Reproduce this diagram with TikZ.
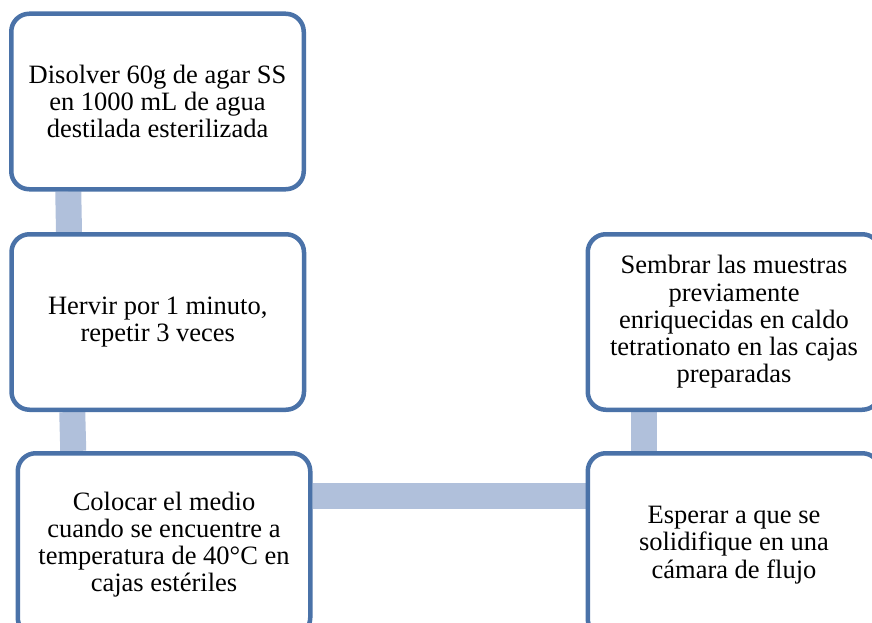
\documentclass[tikz,border=0pt]{standalone}
\usepackage{fontspec}
\setmainfont{Liberation Serif}
\usetikzlibrary{calc,backgrounds}
\definecolor{boxline}{RGB}{74,114,168}
\definecolor{linkfill}{RGB}{176,192,219}
\begin{document}
\begin{tikzpicture}[x=1pt,y=-1pt,
  stepbox/.style={draw=boxline,line width=4.5pt,fill=white,rounded corners=18pt,
    minimum width=292.5pt,minimum height=175.5pt,align=center,inner sep=0pt,
    font=\fontsize{26.5}{27.2}\selectfont},
  link/.style={draw=linkfill,line width=26pt}]
\useasboundingbox (0,0) rectangle (872,623);
\clip (0,0) rectangle (872,623);
\node[stepbox] (b1) at (157.5,101.5) {Disolver 60g de agar SS\\en 1000 mL de agua\\destilada esterilizada};
\node[stepbox] (b2) at (157.75,322) {Hervir por 1 minuto,\\repetir 3 veces};
% the lower boxes run past the bottom edge
\node[stepbox,minimum height=182.5pt] (b3) at (164,544.5) {Colocar el medio\\cuando se encuentre a\\temperatura de 40°C en\\cajas estériles};
\node[stepbox] (b4) at (734,322) {Sembrar las muestras\\previamente\\enriquecidas en caldo\\tetrationato en las cajas\\preparadas};
\node[stepbox,minimum height=183.5pt] (b5) at (734,545) {Esperar a que se\\solidifique en una\\cámara de flujo};
\begin{scope}[on background layer]
  \draw[link] ($(b1.south west)+(59.25,0)$) -- ($(b2.north west)+(59.75,0)$);
  \draw[link] ($(b2.south west)+(63,0)$) -- ($(b3.north west)+(57.75,0)$);
  \draw[link] ($(b3.east)+(0,-48.5)$) -- ($(b5.west)+(0,-49)$);
  \draw[link] ($(b4.south west)+(58.75,0)$) -- ($(b5.north west)+(58.75,0)$);
\end{scope}
\end{tikzpicture}
\end{document}
